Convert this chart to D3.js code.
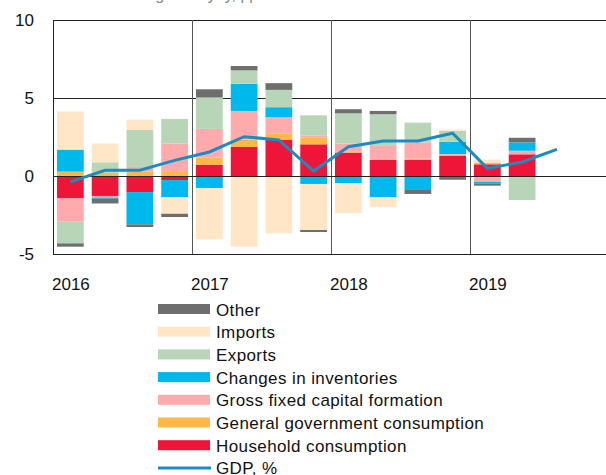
<!DOCTYPE html>
<html>
<head>
<meta charset="utf-8">
<script src="https://cdn.jsdelivr.net/npm/d3@7"></script>
<style>
    html, body { margin: 0; padding: 0; background: #fff; }
    svg { display: block; font-family: "Liberation Sans", Arial, sans-serif; }
</style>
</head>
<body>
<div class="chart"></div>
<script>
// quarters 2016Q1 .. 2019Q4 (last slot is empty space on the axis)
const quarters = ['2016Q1', '2016Q2', '2016Q3', '2016Q4',
    '2017Q1', '2017Q2', '2017Q3', '2017Q4',
    '2018Q1', '2018Q2', '2018Q3', '2018Q4',
    '2019Q1', '2019Q2', '2019Q3', '2019Q4'];
const years = ['2016', '2017', '2018', '2019'];
const yTicks = [10, 5, 0, -5];

// contributions, pp (bars 2016Q1 .. 2019Q2)
const household = [-1.43, -1.28, -1.03, -0.26, 0.73, 1.86, 2.31, 2.03, 1.5, 1.03, 1.03, 1.3, 0.75, 1.39];
const government = [0.28, 0.2, 0.28, 0.26, 0.45, 0.49, 0.43, 0.43, 0.05, 0, 0.08, 0.06, 0.1, 0];
const gfcf = [-1.5, -0.1, 0.3, 1.82, 1.84, 1.82, 1.03, 0.15, 0.53, 0.9, 1.05, 0.05, -0.38, 0.23];
const inventories = [1.41, -0.08, -2.07, -1.11, -0.77, 1.75, 0.64, -0.51, -0.47, -1.37, -0.85, 0.79, -0.12, 0.53];
const exportsC = [-1.39, 0.68, 2.37, 1.58, 2.01, 0.85, 1.11, 1.28, 1.94, 2.03, 1.26, 0.7, 0, -1.54];
const importsC = [2.44, 1.2, 0.66, -1.05, -3.29, -4.53, -3.68, -2.95, -1.9, -0.62, 0, 0.08, 0.2, 0];
const other = [-0.21, -0.3, -0.17, -0.21, 0.53, 0.28, 0.43, -0.13, 0.26, 0.21, -0.3, -0.24, -0.12, 0.3];
// GDP growth, % (2016Q1 .. 2019Q3)
const gdp = [-0.38, 0.37, 0.37, 1.0, 1.54, 2.52, 2.31, 0.32, 1.88, 2.24, 2.24, 2.74, 0.49, 0.9, 1.71];

const series = [
    { key: 'household', label: 'Household consumption', color: '#ee1539', values: household },
    { key: 'government', label: 'General government consumption', color: '#ffb845', values: government },
    { key: 'gfcf', label: 'Gross fixed capital formation', color: '#ffaaad', values: gfcf },
    { key: 'inventories', label: 'Changes in inventories', color: '#00b9ec', values: inventories },
    { key: 'exports', label: 'Exports', color: '#b9d5b8', values: exportsC },
    { key: 'imports', label: 'Imports', color: '#fee6c6', values: importsC },
    { key: 'other', label: 'Other', color: '#6e6e6e', values: other }
];

function contributionChart() {
    const width = 606,
        height = 475,
        plot = { left: 53, top: 20, right: 609, bottom: 254 },
        lineColor = '#1a8cc1',
        frameColor = '#222';

    const x = d3.scaleBand()
        .domain(quarters)
        .range([plot.left, plot.right])
        .paddingInner(0.23)
        .paddingOuter(0.115);

    const y = d3.scaleLinear()
        .domain([-5, 10])
        .range([plot.bottom, plot.top]);

    // x of the boundary line in front of a quarter
    const edge = q => x(q) - x.step() * x.paddingInner() / 2;

    return function chart(selector) {
        const svg = d3.select(selector)
            .append('svg')
            .attr('width', width)
            .attr('height', height);

        // subtitle, mostly cut off by the top edge (as in the source)
        svg.append('text')
            .attr('x', 0)
            .attr('y', -0.5)
            .attr('font-size', 16)
            .attr('fill', '#888')
            .text('Contributions to GDP growth yoy, pp');

        const rows = quarters.slice(0, household.length).map((q, i) => {
            const row = { q };
            series.forEach(s => { row[s.key] = s.values[i]; });
            return row;
        });

        const stacked = d3.stack()
            .keys(series.map(s => s.key))
            .offset(d3.stackOffsetDiverging)(rows);

        // grid lines
        svg.selectAll('.hgrid')
            .data([10, 5, -5])
            .join('line')
            .attr('x1', plot.left).attr('x2', width)
            .attr('y1', d => Math.round(y(d)) + 0.5).attr('y2', d => Math.round(y(d)) + 0.5)
            .attr('stroke', frameColor).attr('stroke-width', 1);

        svg.selectAll('.vgrid')
            .data(['2017Q1', '2018Q1', '2019Q1'])
            .join('line')
            .attr('x1', d => Math.round(edge(d)) + 0.5)
            .attr('x2', d => Math.round(edge(d)) + 0.5)
            .attr('y1', plot.top).attr('y2', plot.bottom)
            .attr('stroke', '#555').attr('stroke-width', 1);

        svg.append('line')
            .attr('x1', plot.left + 0.5).attr('x2', plot.left + 0.5)
            .attr('y1', plot.top).attr('y2', plot.bottom)
            .attr('stroke', frameColor);

        // bars
        svg.append('g')
            .selectAll('g')
            .data(stacked)
            .join('g')
            .attr('fill', (d, i) => series[i].color)
            .selectAll('rect')
            .data(d => d)
            .join('rect')
            .attr('x', d => x(d.data.q))
            .attr('width', x.bandwidth())
            .attr('y', d => y(d[1]))
            .attr('height', d => Math.abs(y(d[0]) - y(d[1])));

        // zero line on top of bars
        svg.append('line')
            .attr('x1', plot.left).attr('x2', width)
            .attr('y1', Math.round(y(0)) + 0.5).attr('y2', Math.round(y(0)) + 0.5)
            .attr('stroke', frameColor);

        // GDP line
        const line = d3.line()
            .x((d, i) => x(quarters[i]) + x.bandwidth() / 2)
            .y(d => y(d));

        svg.append('path')
            .datum(gdp)
            .attr('d', line)
            .attr('fill', 'none')
            .attr('stroke', lineColor)
            .attr('stroke-width', 3);

        // y axis labels
        svg.selectAll('.ytick')
            .data(yTicks)
            .join('text')
            .attr('x', 34)
            .attr('y', d => y(d) + 6)
            .attr('text-anchor', 'end')
            .attr('font-size', 17)
            .attr('fill', '#111')
            .text(d => d);

        // year labels
        svg.selectAll('.year')
            .data(years)
            .join('text')
            .attr('x', d => edge(d + 'Q1') - 1)
            .attr('y', 290)
            .attr('font-size', 17)
            .attr('fill', '#111')
            .text(d => d);

        // legend
        const legendItems = series.slice().reverse()
            .concat([{ key: 'gdp', label: 'GDP, %', color: lineColor, isLine: true }]);

        const legend = svg.append('g')
            .selectAll('g')
            .data(legendItems)
            .join('g')
            .attr('transform', (d, i) => `translate(158, ${309 + i * 22.7})`);

        legend.filter(d => !d.isLine)
            .append('rect')
            .attr('x', 0).attr('y', -5)
            .attr('width', 52).attr('height', 10)
            .attr('fill', d => d.color);

        legend.filter(d => d.isLine)
            .append('line')
            .attr('x1', 0).attr('x2', 53)
            .attr('y1', 0).attr('y2', 0)
            .attr('stroke', d => d.color)
            .attr('stroke-width', 3);

        legend.append('text')
            .attr('x', 58)
            .attr('y', 6.5)
            .attr('font-size', 17)
            .attr('letter-spacing', 0.4)
            .attr('fill', '#111')
            .text(d => d.label);
    };
}

const chart = contributionChart();
chart('.chart');
</script>
</body>
</html>
